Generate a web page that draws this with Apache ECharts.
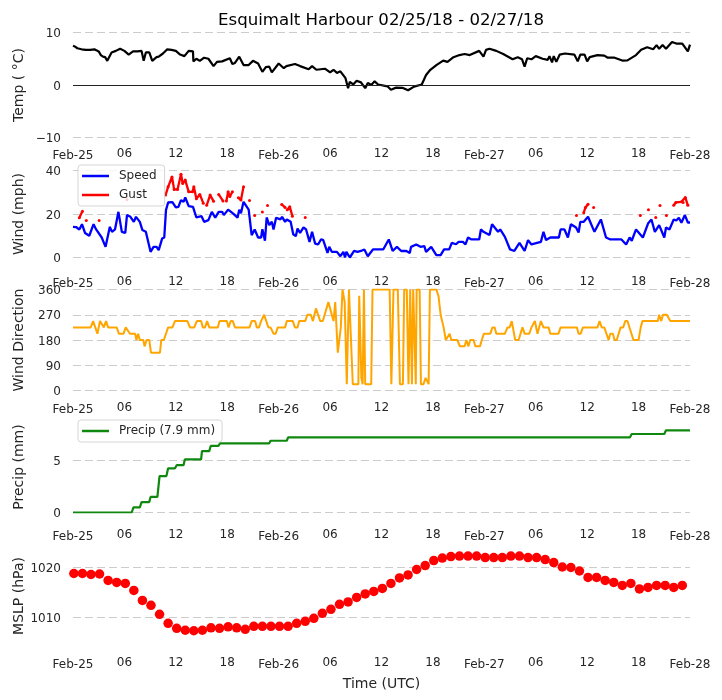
<!DOCTYPE html>
<html>
<head>
<meta charset="utf-8">
<style>html,body{margin:0;padding:0;background:#fff}#c{width:722px;height:700px}</style>
<script src="https://cdn.jsdelivr.net/npm/echarts@6/dist/echarts.min.js"></script>
</head>
<body>
<div id="c"></div>
<script>
// every pair is [hours since Feb-25 00:00 UTC, value]
const xTickLabels = ["Feb-25","06","12","18","Feb-26","06","12","18","Feb-27","06","12","18","Feb-28"];

const tempSeries = [[0,7.5],[0.25,7.3],[0.5,7.0],[1,6.8],[1.5,6.7],[2,6.7],[2.5,6.8],[3,6.4],[3.25,5.7],[3.5,5.4],[3.75,5.3],[4,4.6],[4.5,6.2],[5,6.5],[5.5,6.9],[6,6.5],[6.5,5.8],[7,6.4],[7.5,6.4],[8,6.5],[8.25,4.6],[8.5,6.2],[8.9,6.2],[9.25,4.6],[9.75,5.3],[10,5.4],[10.5,6.0],[11,6.8],[11.5,6.7],[12,6.5],[12.5,5.8],[13,5.5],[13.5,6.5],[14,6.4],[14.05,4.5],[14.4,5.0],[14.8,4.6],[15.3,5.2],[15.8,5.0],[16.4,3.6],[16.8,4.4],[17.4,4.5],[18.3,5.1],[18.6,4.0],[18.9,4.2],[19.4,5.4],[19.9,3.8],[20.5,3.8],[21,4.6],[21.6,4.1],[22.1,2.5],[22.5,3.4],[22.9,3.5],[23.2,2.4],[24,4.1],[24.6,3.2],[24.9,3.6],[25.9,4.0],[26.5,3.6],[27.5,3.0],[27.9,3.6],[28.4,2.9],[29.4,3.1],[30,2.4],[30.4,2.9],[30.8,2.3],[31.2,2.6],[31.8,1.3],[32.1,-0.6],[32.3,0.6],[32.7,0.1],[33.1,0.8],[33.6,0.5],[34.1,-0.6],[34.4,0.4],[34.8,0],[35.2,0.7],[35.6,0.1],[36.7,-0.25],[37.1,-0.9],[37.7,-0.5],[38.5,-0.55],[39.1,-1.0],[39.8,-0.3],[40.7,0.1],[41.2,1.9],[41.7,2.9],[42.4,3.8],[43.2,4.65],[43.7,4.4],[44.4,5.3],[45.1,5.7],[45.7,5.9],[46.3,5.7],[47.4,6.5],[47.9,5.4],[48.2,6.7],[48.6,6.9],[49.4,6.5],[50.2,5.9],[51.3,4.9],[51.9,5.3],[52.4,4.9],[52.7,3.5],[53,5.1],[53.5,4.9],[54,5.5],[54.8,5.0],[55.4,4.8],[55.6,5.5],[55.9,4.3],[56.1,5.5],[56.4,4.4],[56.8,5.8],[57.4,6.0],[58.5,5.8],[58.9,4.5],[59.2,5.8],[59.7,5.8],[60,4.5],[60.3,5.3],[61.2,5.7],[62,5.6],[62.4,5.2],[63.2,5.2],[64.1,4.65],[64.7,4.7],[65.7,5.7],[66.3,6.7],[67,7.2],[67.7,6.8],[68.1,7.6],[68.4,6.9],[68.8,7.6],[69.2,6.9],[69.9,8.2],[70.4,7.9],[71.1,7.9],[71.75,6.4],[72,7.7]];

const speedSeries = [[0,14.1],[0.35,14],[0.74,12.9],[1.05,15.3],[1.4,11.3],[1.9,10],[2.4,15.3],[2.7,12.9],[2.9,13.8],[3.35,9.2],[3.8,4.9],[3.95,4.6],[4.3,14.1],[4.55,11.8],[4.9,12.9],[5.3,21],[5.7,11.8],[6.1,11.3],[6.3,19.5],[6.7,18.7],[7.1,16.4],[7.35,18.7],[7.8,16.4],[8.1,12.6],[8.5,11.8],[9.05,2.6],[9.4,4.9],[9.75,4.9],[10,3.4],[10.4,8.7],[10.65,9.2],[10.85,21.8],[11.1,25.3],[11.6,25.5],[12,23],[12.3,23.3],[12.6,26.4],[12.9,25.6],[13.1,27.6],[13.5,23.6],[14,23.3],[14.4,18.4],[15,19],[15.3,16.4],[15.8,17.2],[16.2,21],[16.6,18.3],[17,21],[17.4,21],[17.6,19.5],[18.1,22],[18.7,20.2],[19.2,18.3],[19.4,22],[19.6,20.4],[19.9,25.6],[20.5,22],[20.85,10.3],[21.2,12.9],[21.6,9.2],[21.95,9.2],[22.1,13],[22.4,7.7],[22.6,18.4],[22.9,14.9],[23.2,16.4],[23.4,12.9],[23.7,18.3],[24.2,17.5],[24.4,18.7],[24.75,16.4],[24.95,17.5],[25.4,16.4],[25.7,10.7],[26,9.8],[26.2,13.3],[26.5,11.3],[26.9,13.8],[27.2,12.9],[27.6,7.2],[27.9,11.8],[28.25,6.4],[28.6,6],[28.95,8.4],[29.2,8],[29.7,2.1],[29.9,4.9],[30.2,2.6],[30.8,2.6],[31.2,0.6],[31.55,2.6],[31.75,0],[31.9,2.6],[32.3,0],[32.8,3],[33.2,2.6],[33.6,3],[34,3.7],[34.4,0.6],[35,3.7],[36.2,3.7],[36.4,4.6],[36.85,8.3],[37.3,3],[37.8,4.9],[38.3,3],[38.9,3],[39.3,2.1],[39.45,4.9],[40.05,6],[40.55,4.9],[41,5.2],[41.2,2.6],[41.8,4.9],[42.4,1.1],[42.9,1.1],[43.3,3.7],[43.9,3.7],[44.2,6.7],[44.7,6.1],[45,7.2],[45.5,7.2],[45.8,6],[46.1,9.2],[46.5,8.3],[47.4,8.3],[47.6,12.9],[47.9,11.8],[48.6,10.3],[48.9,15.3],[49.6,11.8],[49.85,12.9],[50.4,9.5],[51,3.7],[51.5,3],[52.1,6.7],[52.7,3],[53.1,8],[53.5,6],[54.6,7.2],[54.9,11.8],[55.2,8],[55.7,9.2],[56.7,9.2],[56.9,12.9],[57.35,12.9],[57.75,9.2],[58.1,15.3],[58.7,13.8],[59,11.5],[59.2,16.4],[59.6,16.4],[60.1,18.7],[60.85,11.8],[61.6,17.5],[62.2,9.2],[62.7,8.3],[64,8.3],[64.55,6],[64.95,9.2],[65.2,7.7],[65.7,12.9],[66.5,9.2],[67.1,15.6],[67.5,17.5],[67.9,11.8],[68.4,14.9],[69,9.2],[69.2,13.8],[69.6,12.9],[70.1,17.5],[70.4,17],[70.7,18.3],[71,16],[71.4,19.5],[71.75,16.1],[72,16.1]];

const gustSeries = [[0.74,18.3],[1.1,21.3],[1.3,null],[1.55,17],[1.7,null],[3.05,17],[3.2,null],[6.3,26.7],[6.5,null],[10.8,28.7],[11.1,32.5],[11.55,37],[11.8,31.3],[12.2,31.3],[12.6,38.3],[12.8,34],[13.1,35.6],[13.5,30.2],[13.95,30.2],[14.1,32.5],[14.4,27],[14.8,29],[15.2,25],[15.4,null],[15.6,24],[16,28.7],[16.4,25.9],[16.7,null],[17,29],[17.5,26],[17.7,null],[17.9,26],[18.1,30.2],[18.3,28],[18.6,30.2],[18.9,null],[19.3,27.5],[19.6,26.4],[19.9,32.5],[20.2,null],[20.6,26.2],[20.8,null],[21.2,19.3],[21.4,null],[22.1,20.9],[22.3,null],[22.7,23.9],[22.9,null],[24.35,24.4],[24.75,23],[24.9,null],[25,22],[25.3,23.3],[25.6,19],[25.8,null],[27.1,18.4],[27.3,null],[58.75,19.3],[59,null],[59.6,20.6],[59.8,23],[60.1,24.5],[60.4,null],[60.75,23],[61,null],[66.2,19.3],[66.5,null],[67.15,22],[67.4,null],[68,18.4],[68.2,null],[68.5,23.9],[68.8,null],[69.25,19.3],[69.5,null],[70.1,24],[70.35,25.3],[71,25.6],[71.2,25.3],[71.45,27.6],[71.75,24]];

const directionSeries = [[0,225],[2.06,225],[2.35,247.5],[2.85,202.5],[3.15,247.5],[3.35,247.5],[3.6,225],[3.85,247.5],[4.1,225],[5.1,225],[5.35,202.5],[5.9,202.5],[6.15,225],[6.35,225],[6.65,202.5],[7.25,202.5],[7.4,180],[7.6,202.5],[7.8,180],[8.2,180],[8.35,157.5],[8.6,180],[8.9,180],[9.1,135],[10.15,135],[10.3,180],[10.6,180],[11.1,225],[11.6,225],[11.9,247.5],[13.35,247.5],[13.65,225],[14.15,225],[14.45,247.5],[14.95,247.5],[15.15,225],[15.4,225],[15.65,247.5],[15.9,225],[16.9,225],[17.1,247.5],[17.95,247.5],[18.15,225],[18.4,247.5],[18.65,247.5],[18.9,225],[20.6,225],[20.85,247.5],[21.25,247.5],[21.45,225],[21.7,225],[21.95,247.5],[22.1,247.5],[22.3,270],[22.8,225],[23.05,225],[23.4,202.5],[23.65,202.5],[23.9,225],[24.75,225],[24.95,247.5],[25.65,247.5],[25.9,225],[26.2,225],[26.4,247.5],[27.1,247.5],[27.35,270],[27.75,270],[28,247.5],[28.35,292.5],[28.85,247.5],[29.15,247.5],[29.8,315],[30.4,247.5],[30.6,315],[30.9,135],[31.25,225],[31.45,360],[31.7,315],[31.95,22.5],[32.2,360],[32.4,360],[32.65,22.5],[33.3,22.5],[33.4,337.5],[33.65,45],[33.8,22.5],[33.95,360],[34.1,22.5],[34.8,22.5],[34.95,360],[36.95,360],[37.15,22.5],[37.4,360],[37.9,360],[38.15,22.5],[38.5,22.5],[38.65,360],[38.95,360],[39.15,22.5],[39.35,360],[39.55,22.5],[39.7,360],[40,22.5],[40.1,360],[40.45,360],[40.6,22.5],[40.9,22.5],[41.15,45],[41.5,22.5],[41.65,360],[42.4,360],[42.65,337.5],[42.9,270],[43.25,225],[43.5,180],[43.7,180],[43.95,202.5],[44.15,180],[44.85,180],[45.15,157.5],[45.7,157.5],[45.9,180],[46.15,157.5],[46.35,180],[46.75,180],[46.95,157.5],[47.5,157.5],[47.7,180],[47.95,202.5],[48.7,202.5],[48.95,225],[49.2,225],[49.4,202.5],[50.4,202.5],[50.7,225],[50.95,225],[51.2,247.5],[51.6,180],[52,180],[52.45,225],[52.7,202.5],[53.25,202.5],[53.5,225],[53.7,225],[53.9,247.5],[54.2,202.5],[54.6,247.5],[54.9,225],[55.5,225],[55.7,202.5],[56.65,202.5],[56.9,225],[58.8,225],[59,202.5],[59.25,202.5],[59.5,225],[61.2,225],[61.45,247.5],[61.7,225],[62,225],[62.5,180],[62.7,202.5],[63,202.5],[63.2,180],[63.45,180],[63.9,225],[64.2,225],[64.45,247.5],[64.7,247.5],[65.4,180],[66,180],[66.25,225],[66.45,247.5],[68.25,247.5],[68.4,270],[68.65,247.5],[68.85,270],[69.3,270],[69.7,247.5],[72,247.5]];

const precipSeries = [[0,0],[6.85,0],[7.05,0.5],[7.8,0.5],[8,1.0],[8.9,1.0],[9.05,1.5],[9.85,1.5],[10.1,3.5],[10.9,3.5],[11.1,4.25],[11.9,4.25],[12.1,4.55],[12.9,4.55],[13.05,5.1],[14.95,5.1],[15.05,5.9],[15.9,5.9],[16.07,6.4],[16.97,6.4],[17.15,6.65],[22.9,6.65],[23.05,6.9],[24.95,6.9],[25.1,7.23],[65,7.23],[65.2,7.55],[69,7.55],[69.2,7.9],[72,7.9]];

const mslpValues = [1018.8,1018.8,1018.6,1018.7,1017.4,1017,1016.8,1015.4,1013.4,1012.4,1010.6,1008.8,1007.8,1007.4,1007.3,1007.4,1007.9,1007.8,1008.1,1007.9,1007.6,1008.2,1008.2,1008.2,1008.2,1008.2,1008.8,1009.2,1009.8,1010.8,1011.6,1012.6,1013.1,1014,1014.7,1015.2,1015.8,1016.8,1017.9,1018.5,1019.6,1020.4,1021.4,1021.9,1022.2,1022.3,1022.3,1022.3,1022,1022,1022,1022.3,1022.3,1022,1022,1021.6,1021,1020.1,1020,1019.3,1018,1018,1017.4,1017,1016.4,1016.8,1015.7,1016,1016.4,1016.4,1016,1016.4];
const mslpSeries = mslpValues.map((v,i)=>[i+0.1,v]);

const tempTicks = [-10,0,10], tempLines = [-10,10];
const windTicks = [0,20,40];
const dirTicks = [0,90,180,270,360];
const precipTicks = [0,5];
const mslpTicks = [1010,1020];

const TXT = '#262626', FONT = 'DejaVu Sans';
const panels = [
  {top:32.5, bottom:137.5, min:-10, max:10, ticks:tempTicks, lines:tempLines, title:'Temp ( \u00b0C)', margin:10},
  {top:170.5,bottom:257.5, min:0, max:40, ticks:windTicks, lines:windTicks, title:'Wind (mph)', margin:18},
  {top:289.5,bottom:390.5, min:0, max:360, ticks:dirTicks, lines:dirTicks, title:'Wind Direction', margin:11},
  {top:421.5,bottom:512.5, min:0, max:8.75, ticks:precipTicks, lines:precipTicks, title:'Precip (mm)', margin:16},
  {top:545, bottom:647, min:1004.04, max:1024.52, ticks:mslpTicks, lines:mslpTicks, title:'MSLP (hPa)', margin:10}
];

const option = {
  animation:false,
  backgroundColor:'#fff',
  textStyle:{fontFamily:FONT},
  title:{text:'Esquimalt Harbour 02/25/18 - 02/27/18', left:376, top:7, textAlign:'center',
    textStyle:{fontFamily:FONT,fontSize:16.6,fontWeight:'normal',color:'#000'}},
  legend:[
    {data:['Speed','Gust'], orient:'vertical', left:78, top:165, itemWidth:27, itemHeight:2.5, icon:'rect', itemGap:7,
     padding:[5,8,5,4], borderColor:'#d5d5d5', borderWidth:1, borderRadius:3, backgroundColor:'rgba(255,255,255,0.8)',
     textStyle:{fontFamily:FONT,fontSize:12,color:TXT,padding:[0,0,0,5]}},
    {data:['Precip (7.9 mm)'], orient:'vertical', left:78, top:420, itemWidth:27, itemHeight:2.5, icon:'rect',
     padding:[5,7,5,4], borderColor:'#d5d5d5', borderWidth:1, borderRadius:3, backgroundColor:'rgba(255,255,255,0.8)',
     textStyle:{fontFamily:FONT,fontSize:12,color:TXT,padding:[0,0,0,5]}}
  ],
  grid:panels.map(p=>({left:73,right:32,top:p.top,height:p.bottom-p.top,containLabel:false})),
  xAxis:panels.map((p,i)=>({
    gridIndex:i,type:'value',min:0,max:72,interval:6,
    axisLine:{show:false},axisTick:{show:false},splitLine:{show:false},
    name:i===4?'Time (UTC)':'',nameLocation:'middle',nameGap:30,
    nameTextStyle:{fontFamily:FONT,fontSize:14,color:TXT},
    axisLabel:{
      margin:p.margin,showMinLabel:true,showMaxLabel:true,hideOverlap:false,
      formatter:v=>{const s=xTickLabels[Math.round(v/6)];return s.length>2?'{maj|'+s+'}':'{min|'+s+'}';},
      rich:{
        maj:{fontFamily:FONT,fontSize:12,color:TXT,padding:[2,0,0,0]},
        min:{fontFamily:FONT,fontSize:12,color:TXT}
      }
    }
  })),
  yAxis:panels.map((p,i)=>({
    gridIndex:i,type:'value',min:p.min,max:p.max,
    name:p.title,nameLocation:'middle',nameGap:47,nameMoveOverlap:false,
    nameTextStyle:{fontFamily:FONT,fontSize:14,color:TXT},
    axisLine:{show:false},
    axisTick:{show:false,customValues:p.lines},
    axisLabel:{customValues:p.ticks,margin:12,
      formatter:v=>'{t|'+String(v).replace('-','\u2212')+'}',
      rich:{t:{fontFamily:FONT,fontSize:12,color:TXT,padding:[3,0,0,0]}}},
    splitLine:{show:true,showMinLine:true,showMaxLine:true,lineStyle:{color:'#cccccc',width:1,type:[8,4]}}
  })),
  series:[
    {name:'Temp',type:'line',xAxisIndex:0,yAxisIndex:0,data:tempSeries,showSymbol:false,lineStyle:{color:'#000',width:2.2},itemStyle:{color:'#000'},
     markLine:{silent:true,symbol:'none',animation:false,label:{show:false},lineStyle:{color:'#222',width:1,type:'solid'},data:[[{coord:[0,0]},{coord:[72,0]}]]}},
    {name:'Speed',type:'line',xAxisIndex:1,yAxisIndex:1,data:speedSeries,showSymbol:false,lineStyle:{color:'#0000ff',width:2.3},itemStyle:{color:'#0000ff'}},
    {name:'Gust',type:'line',xAxisIndex:1,yAxisIndex:1,data:gustSeries,connectNulls:false,showSymbol:true,showAllSymbol:true,symbol:'circle',symbolSize:3,lineStyle:{color:'#ff0000',width:2.3},itemStyle:{color:'#ff0000'}},
    {name:'Direction',type:'line',xAxisIndex:2,yAxisIndex:2,data:directionSeries,showSymbol:false,lineStyle:{color:'#ffa500',width:2},itemStyle:{color:'#ffa500'}},
    {name:'Precip (7.9 mm)',type:'line',xAxisIndex:3,yAxisIndex:3,data:precipSeries,showSymbol:false,lineStyle:{color:'#108810',width:2.2},itemStyle:{color:'#108810'}},
    {name:'MSLP',type:'scatter',xAxisIndex:4,yAxisIndex:4,data:mslpSeries,symbolSize:9.5,itemStyle:{color:'#ff0000',opacity:1}}
  ]
};
const chart = echarts.init(document.getElementById('c'),null,{renderer:'canvas'});
chart.setOption(option);
</script>
</body>
</html>
